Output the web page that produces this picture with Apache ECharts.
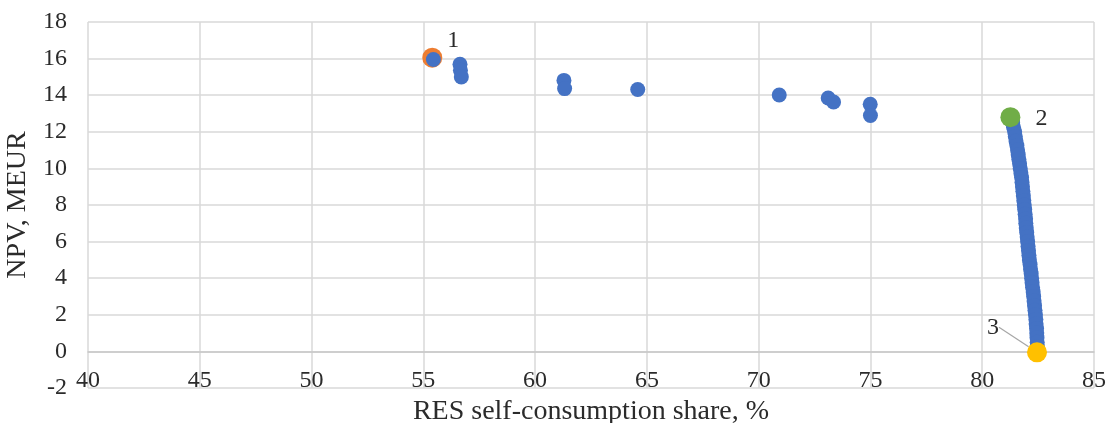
<!DOCTYPE html>
<html>
<head>
<meta charset="utf-8">
<script src="https://cdn.jsdelivr.net/npm/echarts@6/dist/echarts.min.js"></script>
<style>
  html, body { margin: 0; padding: 0; background: #fff; }
  #main { width: 1107px; height: 423px; }
</style>
</head>
<body>
<div id="main"></div>
<script>
// scattered points
const scatterX = [55.45, 56.64, 56.66, 56.7, 61.29, 61.32, 64.59, 70.92, 73.11, 73.35, 74.99, 75.0]
const scatterY = [15.95, 15.69, 15.36, 15.0, 14.81, 14.36, 14.31, 14.01, 13.85, 13.63, 13.5, 12.89]

// steep run from point 2 down to point 3
const runX = [81.36, 81.40, 81.45, 81.48, 81.51, 81.55, 81.58, 81.61, 81.64, 81.67,
  81.70, 81.73, 81.76, 81.78, 81.80, 81.82, 81.84, 81.86, 81.88, 81.90,
  81.92, 81.94, 81.95, 81.97, 81.99, 82.01, 82.03, 82.05, 82.07, 82.09,
  82.11, 82.14, 82.16, 82.19, 82.21, 82.23, 82.25, 82.28, 82.30, 82.32,
  82.34, 82.36, 82.38, 82.40, 82.41, 82.43, 82.44, 82.45, 82.46, 82.47]
const runY = [12.5, 12.25, 12.0, 11.75, 11.5, 11.25, 11.0, 10.75, 10.5, 10.25,
  10.0, 9.75, 9.5, 9.25, 9.0, 8.75, 8.5, 8.25, 8.0, 7.75,
  7.5, 7.25, 7.0, 6.75, 6.5, 6.25, 6.0, 5.75, 5.5, 5.25,
  5.0, 4.75, 4.5, 4.25, 4.0, 3.75, 3.5, 3.25, 3.0, 2.75,
  2.5, 2.25, 2.0, 1.75, 1.5, 1.25, 1.0, 0.75, 0.5, 0.25]

// highlighted points 1, 2, 3
const point1 = [55.4, 16.05]
const point2 = [81.26, 12.8]
const point3 = [82.45, -0.05]

const xTicks = { min: 40, max: 85, interval: 5 }
const yTicks = { min: -2, max: 18, interval: 2 }

const textColor = '#2b2b2b'
const font = 'Liberation Serif'

const gridTop = 22
const gridBottom = 35
const gridHeight = 423 - gridTop - gridBottom
// x axis crosses at NPV = 0 (like the original), lift it from the bottom edge
const xAxisLift = gridHeight * (0 - yTicks.min) / (yTicks.max - yTicks.min)

const blueData = scatterX.map((x, i) => [x, scatterY[i]])
  .concat(runX.map((x, i) => [x, runY[i]]))

const chart = echarts.init(document.getElementById('main'))

const markLabel = (text, ox, oy) => ({
  show: true,
  formatter: text,
  position: 'inside',
  offset: [ox, oy],
  color: textColor,
  fontFamily: font,
  fontSize: 24
})

chart.setOption({
  animation: false,
  grid: {
    left: 88,
    right: 13,
    top: gridTop,
    bottom: gridBottom,
    outerBoundsMode: 'none'
  },
  xAxis: {
    type: 'value',
    min: xTicks.min,
    max: xTicks.max,
    interval: xTicks.interval,
    offset: -xAxisLift,
    name: 'RES self-consumption share, %',
    nameLocation: 'middle',
    nameGap: 42,
    nameTextStyle: { color: textColor, fontFamily: font, fontSize: 28 },
    axisLine: { onZero: false, lineStyle: { color: '#c8c8c8', width: 1.5 } },
    axisTick: { show: false },
    axisLabel: { color: textColor, fontFamily: font, fontSize: 24, margin: 17 },
    splitLine: { show: true, lineStyle: { color: '#d9d9d9', width: 1.5 } }
  },
  yAxis: {
    type: 'value',
    min: yTicks.min,
    max: yTicks.max,
    interval: yTicks.interval,
    name: 'NPV, MEUR',
    nameLocation: 'middle',
    nameGap: 52,
    nameTextStyle: { color: textColor, fontFamily: font, fontSize: 28 },
    axisLine: { show: false, onZero: false },
    axisTick: { show: false },
    axisLabel: { color: textColor, fontFamily: font, fontSize: 24, margin: 21 },
    splitLine: { show: true, lineStyle: { color: '#d9d9d9', width: 1.5 } }
  },
  series: [
    {
      type: 'scatter',
      data: [point1],
      symbolSize: 20,
      itemStyle: { color: '#ED7D31', opacity: 1 },
      label: markLabel('1', 21, -17)
    },
    {
      type: 'scatter',
      data: blueData,
      symbolSize: 15,
      itemStyle: { color: '#4472C4', opacity: 1 }
    },
    {
      type: 'scatter',
      data: [point2],
      symbolSize: 20,
      itemStyle: { color: '#70AD47', opacity: 1 },
      label: markLabel('2', 31, 2)
    },
    {
      type: 'scatter',
      data: [point3],
      symbolSize: 20,
      itemStyle: { color: '#FFC000', opacity: 1 },
      label: {
        show: true,
        formatter: '3',
        position: 'inside',
        color: textColor,
        fontFamily: font,
        fontSize: 24
      },
      labelLayout: { dx: -44, dy: -25 },
      labelLine: { show: true, lineStyle: { color: '#a6a6a6', width: 1.2 } }
    }
  ]
})
</script>
</body>
</html>
